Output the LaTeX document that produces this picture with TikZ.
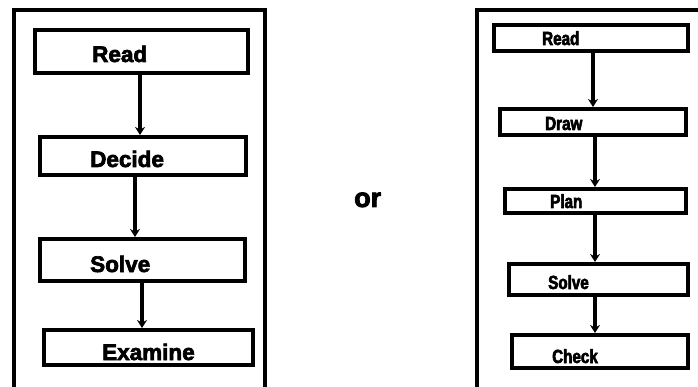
\documentclass[tikz,border=0pt]{standalone}
\usepackage{fontspec}
\newfontfamily\heavy{Liberation Sans Bold}[FakeBold=3]
\newfontfamily\heavynarrow{Liberation Sans Bold}[FakeBold=3,FakeStretch=0.8]
\usetikzlibrary{arrows.meta}
\begin{document}
\begin{tikzpicture}[x=1pt,y=-1pt,
  stepbox/.style={draw,line width=4pt,rectangle,inner sep=0pt,fill=white},
  frame/.style={draw,line width=4.5pt},
  lbl/.style={anchor=base west,inner sep=0pt,font=\heavy\fontsize{22.5}{22.5}\selectfont},
  slbl/.style={anchor=base west,inner sep=0pt,font=\heavynarrow\fontsize{19}{19}\selectfont},
  arr/.style={line width=3.5pt,-{Stealth[length=8pt,width=10pt]}}]
\useasboundingbox (0,0) rectangle (698,387);
\begin{scope}
\clip (0,0) rectangle (698,387);
\draw[frame] (14,420) -- (14,10) -- (265,10) -- (265,420);
\draw[frame] (477,420) -- (477,10) -- (720,10);
\end{scope}
% left column
\node[stepbox,minimum width=213pt,minimum height=43pt] (L1) at (141.5,51.5) {};
\node[stepbox,minimum width=206pt,minimum height=38pt] (L2) at (143,156) {};
\node[stepbox,minimum width=205pt,minimum height=42pt] (L3) at (142.5,260) {};
\node[stepbox,minimum width=209pt,minimum height=35pt] (L4) at (148.5,347.5) {};
\node[lbl] (tL1) at (92,62) {Read};
\node[lbl] (tL2) at (90,167) {Decide};
\node[lbl] (tL3) at (90,272) {Solve};
\node[lbl] (tL4) at (102,360) {Examine};
\coordinate (xa) at (140,0);
\coordinate (xb) at (135,0);
\coordinate (xc) at (142,0);
\draw[arr] (L1.south -| xa) -- (L2.north -| xa);
\draw[arr] (L2.south -| xb) -- (L3.north -| xb);
\draw[arr] (L3.south -| xc) -- (L4.north -| xc);
% or
\node[anchor=base west,inner sep=0pt,font=\heavy\fontsize{27}{27}\selectfont] (or) at (354,207) {or};
% right column
\node[stepbox,minimum width=194pt,minimum height=26pt] (R1) at (591,38) {};
\node[stepbox,minimum width=186pt,minimum height=26pt] (R2) at (593,122) {};
\node[stepbox,minimum width=181pt,minimum height=24pt] (R3) at (595.5,201) {};
\node[stepbox,minimum width=179pt,minimum height=31pt] (R4) at (598.5,279.5) {};
\node[stepbox,minimum width=176pt,minimum height=33pt] (R5) at (600,351.5) {};
\node[slbl] (tR1) at (542,45) {Read};
\node[slbl] (tR2) at (545,130) {Draw};
\node[slbl] (tR3) at (550,208) {Plan};
\node[slbl] (tR4) at (548,289) {Solve};
\node[slbl] (tR5) at (552,363) {Check};
\coordinate (xd) at (593,0);
\coordinate (xe) at (595,0);
\draw[arr] (R1.south -| xd) -- (R2.north -| xd);
\draw[arr] (R2.south -| xe) -- (R3.north -| xe);
\draw[arr] (R3.south -| xe) -- (R4.north -| xe);
\draw[arr] (R4.south -| xe) -- (R5.north -| xe);
\end{tikzpicture}
\end{document}
